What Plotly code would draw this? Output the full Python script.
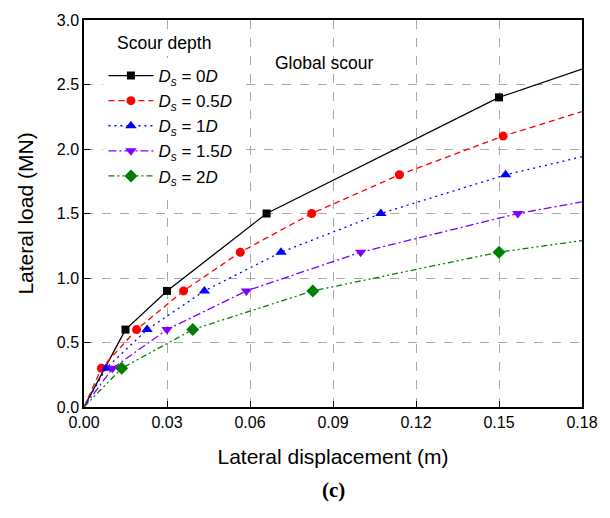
import plotly.graph_objects as go

# ---- data ----
x_0D = [0.0, 0.015, 0.030, 0.066, 0.150, 0.180]
y_0D = [0.0, 0.6, 0.9, 1.5, 2.4, 2.62]
m_0D = [False, True, True, True, True, False]

x_05D = [0.0, 0.0063, 0.019, 0.036, 0.0565, 0.0823, 0.114, 0.1515, 0.180]
y_05D = [0.0, 0.3, 0.6, 0.9, 1.2, 1.5, 1.8, 2.1, 2.29]
m_05D = [False, True, True, True, True, True, True, True, False]

x_1D = [0.0, 0.008, 0.0228, 0.0435, 0.0712, 0.1073, 0.1524, 0.180]
y_1D = [0.0, 0.3, 0.6, 0.9, 1.2, 1.5, 1.8, 1.94]
m_1D = [False, True, True, True, True, True, True, False]

x_15D = [0.0, 0.0103, 0.030, 0.0587, 0.100, 0.1568, 0.180]
y_15D = [0.0, 0.3, 0.6, 0.9, 1.2, 1.5, 1.59]
m_15D = [False, True, True, True, True, True, False]

x_2D = [0.0, 0.0136, 0.0393, 0.0827, 0.150, 0.180]
y_2D = [0.0, 0.3, 0.6, 0.9, 1.2, 1.29]
m_2D = [False, True, True, True, True, False]

names = ["<i>D<sub>s</sub></i> = 0<i>D</i>",
         "<i>D<sub>s</sub></i> = 0.5<i>D</i>",
         "<i>D<sub>s</sub></i> = 1<i>D</i>",
         "<i>D<sub>s</sub></i> = 1.5<i>D</i>",
         "<i>D<sub>s</sub></i> = 2<i>D</i>"]

x_ticks = [0.00, 0.03, 0.06, 0.09, 0.12, 0.15, 0.18]
y_ticks = [0.0, 0.5, 1.0, 1.5, 2.0, 2.5, 3.0]

series = [
    (x_0D, y_0D, m_0D, "black", "solid", "square", 8),
    (x_05D, y_05D, m_05D, "#ff0000", "6px,4px", "circle", 9),
    (x_1D, y_1D, m_1D, "#0000ff", "2px,4px", "triangle-up", 10),
    (x_15D, y_15D, m_15D, "#8000ff", "8px,3px,2px,3px", "triangle-down", 10),
    (x_2D, y_2D, m_2D, "#008000", "6px,3px,2px,3px,2px,3px", "diamond", 10),
]

FONT = "Arial, Liberation Sans"

fig = go.Figure()
for (xs, ys, ms, col, dash, sym, sz), nm in zip(series, names):
    fig.add_trace(go.Scatter(x=xs, y=ys, mode="lines", showlegend=False,
                             line=dict(color=col, width=1.3, dash=dash),
                             hoverinfo="skip"))
    mx = [a for a, k in zip(xs, ms) if k]
    my = [b for b, k in zip(ys, ms) if k]
    fig.add_trace(go.Scatter(x=mx, y=my, mode="markers", showlegend=False,
                             marker=dict(color=col, symbol=sym, size=sz)))
    fig.add_trace(go.Scatter(x=[None], y=[None], mode="lines+markers", name=nm,
                             line=dict(color=col, width=1.3, dash=dash),
                             marker=dict(color=col, symbol=sym, size=sz)))

fig.add_annotation(x=0.0868, y=2.667, xref="x", yref="y", text="Global scour",
                   showarrow=False, font=dict(family=FONT, size=17.5, color="black"))
fig.add_annotation(x=(166 - 84) / 509, y=(407 - 43) / 387, xref="paper", yref="paper",
                   text="Scour depth", xanchor="center", yanchor="middle",
                   bgcolor="white", showarrow=False,
                   font=dict(family=FONT, size=17.5, color="black"))
fig.add_annotation(x=0.5, y=-0.215, xref="paper", yref="paper", text="<b>(c)</b>",
                   yanchor="middle", xanchor="center",
                   showarrow=False, font=dict(family="Liberation Serif, DejaVu Serif", size=21, color="black"))

axis_common = dict(showline=True, linecolor="black", linewidth=1.5, mirror=True,
                   ticks="inside", ticklen=6, tickcolor="black", tickwidth=1.2,
                   showgrid=True, gridcolor="#a8a8a8", gridwidth=1, griddash="dash",
                   zeroline=False,
                   tickfont=dict(family=FONT, size=16, color="black"))

fig.update_xaxes(range=[0, 0.18], tickvals=x_ticks, tickformat=".2f",
                 title=dict(text="Lateral displacement (m)", standoff=19,
                            font=dict(family=FONT, size=21, color="black")),
                 **axis_common)
fig.update_yaxes(range=[0, 3.0], tickvals=y_ticks, tickformat=".1f",
                 title=dict(text="Lateral load (MN)", standoff=17,
                            font=dict(family=FONT, size=21, color="black")),
                 **axis_common)

fig.update_layout(
    width=610, height=518,
    margin=dict(l=84, r=17, t=20, b=111),
    paper_bgcolor="white", plot_bgcolor="white",
    legend=dict(x=0.039, y=(407 - 58) / 387, xanchor="left", yanchor="top",
                bgcolor="white", borderwidth=0, itemwidth=45,
                font=dict(family=FONT, size=17, color="black"),
                tracegroupgap=0),
    font=dict(family=FONT, color="black"),
)

fig.write_html("out.html")
